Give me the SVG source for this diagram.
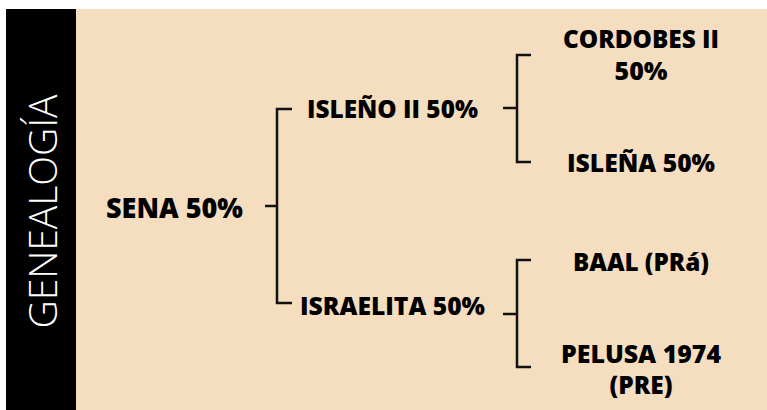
<svg xmlns="http://www.w3.org/2000/svg" width="767" height="410" viewBox="0 0 767 410">
<style>
.t{font-family:"Open Sans","Noto Sans","Liberation Sans",sans-serif;font-weight:800;fill:#000}
.l{font-size:28px}
.m{font-size:25px}
.b{fill:none;stroke:#111;stroke-width:2.5}
</style>
<rect x="0" y="0" width="767" height="410" fill="#fff"/>
<rect x="76" y="9" width="691" height="401" fill="#F5DEC0"/>
<g id="sidebar">
<rect x="6" y="9" width="70" height="401" fill="#000"/>
<text transform="translate(57,211.5) rotate(-90)" text-anchor="middle" font-family="Open Sans, Noto Sans, sans-serif" font-weight="300" font-size="39" fill="#fff">GENEALOGÍA</text>
</g>
<g id="connectors">
<path class="b" d="M265,206H277M292,109H277V303H292"/>
<path class="b" d="M503,108H517M531,55H517V162H531"/>
<path class="b" d="M503,314H517M531,260H517V367H531"/>
</g>
<g id="sena"><text class="t l" x="106" y="218" textLength="137" lengthAdjust="spacingAndGlyphs">SENA 50%</text></g>
<g id="isleno"><text class="t m" x="307" y="118" textLength="171" lengthAdjust="spacingAndGlyphs">ISLEÑO II 50%</text></g>
<g id="israelita"><text class="t m" x="300" y="315" textLength="185" lengthAdjust="spacingAndGlyphs">ISRAELITA 50%</text></g>
<g id="cordobes"><text class="t m" text-anchor="middle"><tspan x="641" y="48" textLength="156" lengthAdjust="spacingAndGlyphs">CORDOBES II</tspan><tspan x="641" y="80" textLength="53" lengthAdjust="spacingAndGlyphs">50%</tspan></text></g>
<g id="islena"><text class="t m" x="641" y="172" text-anchor="middle" textLength="148" lengthAdjust="spacingAndGlyphs">ISLEÑA 50%</text></g>
<g id="baal"><text class="t m" x="641" y="271" text-anchor="middle" textLength="136" lengthAdjust="spacingAndGlyphs">BAAL (PRá)</text></g>
<g id="pelusa"><text class="t m" text-anchor="middle"><tspan x="641" y="363" textLength="160" lengthAdjust="spacingAndGlyphs">PELUSA 1974</tspan><tspan x="641" y="394" textLength="63" lengthAdjust="spacingAndGlyphs">(PRE)</tspan></text></g>
</svg>
